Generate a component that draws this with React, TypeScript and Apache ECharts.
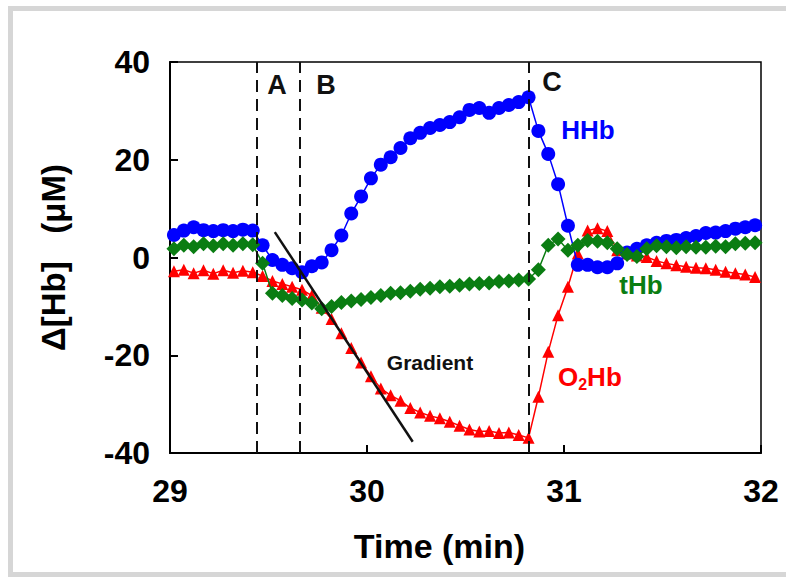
import React, { useEffect, useRef } from "react";
import * as echarts from "echarts";

// Time (min)
const times = [
  29.02, 29.07, 29.12, 29.17, 29.22, 29.27, 29.32, 29.37, 29.42, 29.47,
  29.52, 29.57, 29.62, 29.67, 29.72, 29.77, 29.82, 29.87, 29.92, 29.97,
  30.02, 30.07, 30.12, 30.17, 30.22, 30.27, 30.32, 30.37, 30.42, 30.47,
  30.52, 30.57, 30.62, 30.67, 30.72, 30.77, 30.82, 30.87, 30.92, 30.97,
  31.02, 31.07, 31.12, 31.17, 31.22, 31.27, 31.32, 31.37, 31.42, 31.47,
  31.52, 31.57, 31.62, 31.67, 31.72, 31.77, 31.82, 31.87, 31.92, 31.97,
];

const hhb = [
  4.6, 5.5, 6.2, 5.6, 5.4, 5.6, 5.4, 5.7, 5.5, 2.5,
  -0.5, -1.5, -2.2, -3.0, -1.8, -1.0, 1.5, 4.5, 9.0, 12.5,
  16.2, 19.0, 20.5, 22.4, 24.4, 25.5, 26.5, 27.1, 27.7, 28.7,
  30.2, 30.6, 29.6, 30.6, 31.2, 31.8, 32.8, 25.9, 21.2, 15.0,
  6.5, -1.5, -1.5, -2.0, -2.0, -1.2, 1.0, 1.8, 2.5, 3.0,
  3.4, 3.6, 4.0, 4.4, 5.0, 5.1, 5.4, 5.9, 6.2, 6.6,
];

const thb = [
  1.8, 2.5, 2.2, 2.8, 2.4, 2.8, 2.5, 2.8, 2.6, -1.2,
  -7.3, -7.8, -8.4, -8.7, -9.3, -10.5, -10.0, -9.2, -8.9, -8.6,
  -8.2, -7.8, -7.3, -7.2, -6.9, -6.5, -6.3, -6.0, -5.9, -5.7,
  -5.4, -5.3, -5.2, -4.9, -4.8, -4.6, -4.4, -2.5, 2.5, 3.8,
  1.5, 2.5, 3.5, 3.3, 3.0, 1.8, 0.6, 0.2, 1.8, 2.4,
  2.2, 2.0, 2.2, 2.1, 2.1, 2.3, 2.2, 2.8, 2.9, 3.0,
];

const o2hb = [
  -2.8, -2.5, -3.2, -2.6, -3.3, -2.6, -3.1, -2.7, -3.0, -3.8,
  -4.8, -5.4, -6.0, -6.6, -7.8, -10.3, -12.6, -15.5, -18.5, -21.5,
  -24.3, -26.8, -28.2, -29.3, -30.8, -31.7, -32.4, -32.9, -33.6, -34.4,
  -35.2, -35.6, -35.5, -35.9, -35.8, -36.3, -36.9, -28.5, -19.3, -11.8,
  -6.0, 0.8, 5.5, 6.0, 5.4, 1.5, 0.8, 0.4, 0.1, -0.7,
  -1.2, -1.6, -1.9, -2.1, -2.2, -2.5, -2.9, -3.2, -3.5, -4.0,
];

// Gradient line end points [time, value]
const gradientLine = [
  [29.532, 5.2],
  [30.232, -37.7],
];

// Phase boundaries (min)
const phaseTimes = [29.44, 29.662, 30.816];
const phaseNames = ["A", "B", "C"];

const xTicks = [29, 30, 31, 32];
const yTicks = [-40, -20, 0, 20, 40];

const FONT = "Liberation Sans, Arial, Helvetica, sans-serif";

export default function App() {
  const ref = useRef<HTMLDivElement>(null);

  useEffect(() => {
    if (!ref.current) return;
    const chart = echarts.init(ref.current, null, { renderer: "svg" });
    const zip = (vals: number[]) => times.map((t, i) => [t, vals[i]]);

    const option: any = {
      animation: false,
      backgroundColor: "#ffffff",
      grid: {
        left: 170,
        right: 25,
        top: 62,
        bottom: 124,
        show: true,
        borderColor: "#000",
        borderWidth: 1.5,
        backgroundColor: "transparent",
      },
      xAxis: {
        type: "value",
        min: xTicks[0],
        max: xTicks[xTicks.length - 1],
        interval: 1,
        axisLine: { show: true, onZero: false, lineStyle: { color: "#000", width: 2 } },
        axisTick: { show: true, inside: true, length: 8, lineStyle: { color: "#000", width: 2 } },
        axisLabel: {
          color: "#000",
          fontSize: 32,
          fontWeight: "bold",
          fontFamily: FONT,
          margin: 22,
        },
        splitLine: { show: false },
        name: "Time (min)",
        nameLocation: "middle",
        nameGap: 76,
        nameMoveOverlap: false,
        nameTextStyle: {
          color: "#000",
          fontSize: 34,
          fontWeight: "bold",
          fontFamily: FONT,
          padding: [0, 52, 0, 0],
        },
      },
      yAxis: {
        type: "value",
        min: yTicks[0],
        max: yTicks[yTicks.length - 1],
        interval: 20,
        axisLine: { show: true, onZero: false, lineStyle: { color: "#000", width: 2 } },
        axisTick: { show: true, inside: true, length: 8, lineStyle: { color: "#000", width: 2 } },
        axisLabel: {
          color: "#000",
          fontSize: 32,
          fontWeight: "bold",
          fontFamily: FONT,
          margin: 20,
        },
        splitLine: { show: false },
        name: "Δ[Hb]   (μM)",
        nameLocation: "middle",
        nameRotate: 90,
        nameGap: 100,
        nameMoveOverlap: false,
        nameTextStyle: { color: "#000", fontSize: 33, fontWeight: "bold", fontFamily: FONT },
      },
      series: [
        {
          name: "O2Hb",
          type: "line",
          data: zip(o2hb),
          symbol: "triangle",
          symbolSize: 12,
          itemStyle: { color: "#ff0000" },
          lineStyle: { color: "#ff0000", width: 1.5 },
          z: 2,
        },
        {
          name: "HHb",
          type: "line",
          data: zip(hhb),
          symbol: "circle",
          symbolSize: 14,
          itemStyle: { color: "#0000ff" },
          lineStyle: { color: "#0000ff", width: 1.5 },
          z: 3,
        },
        {
          name: "tHb",
          type: "line",
          data: zip(thb),
          symbol: "diamond",
          symbolSize: 15,
          itemStyle: { color: "#0a7d12" },
          lineStyle: { color: "#0a7d12", width: 1.5 },
          z: 4,
        },
        {
          name: "Gradient",
          type: "line",
          data: gradientLine,
          symbol: "none",
          lineStyle: { color: "#111", width: 2.5 },
          z: 5,
          markLine: {
            silent: true,
            symbol: "none",
            label: { show: false },
            lineStyle: { color: "#111", type: [12, 7], width: 2 },
            data: phaseTimes.map((t) => ({ xAxis: t })),
          },
        },
      ],
      graphic: [
        {
          type: "rect",
          shape: { x: 10.5, y: 8.5, width: 800, height: 566 },
          style: { fill: "none", stroke: "#d6d6d6", lineWidth: 5 },
          silent: true,
        },
        ...phaseNames.map((n, i) => ({
          type: "text",
          x: [277, 326, 552][i],
          y: [85, 85, 82][i],
          style: {
            text: n,
            fill: "#111",
            font: `bold 27px ${FONT}`,
            align: "center",
            verticalAlign: "middle",
          },
        })),
        {
          type: "text",
          x: 588,
          y: 130,
          style: { text: "HHb", fill: "#0000ff", font: `bold 26px ${FONT}`, align: "center", verticalAlign: "middle" },
        },
        {
          type: "text",
          x: 641,
          y: 285,
          style: { text: "tHb", fill: "#0a7d12", font: `bold 26px ${FONT}`, align: "center", verticalAlign: "middle" },
        },
        {
          type: "text",
          x: 558,
          y: 377,
          style: {
            text: "{m|O}{s|2}{m|Hb}",
            align: "left",
            verticalAlign: "middle",
            rich: {
              m: { fill: "#ff0000", font: `bold 26px ${FONT}` },
              s: { fill: "#ff0000", font: `bold 16px ${FONT}`, padding: [14, 0, 0, 0] },
            },
          },
        },
        {
          type: "text",
          x: 430,
          y: 362,
          style: { text: "Gradient", fill: "#111", font: `bold 21px ${FONT}`, align: "center", verticalAlign: "middle" },
        },
      ],
    };

    chart.setOption(option);
    return () => chart.dispose();
  }, []);

  return (
    <div
      ref={ref}
      style={{ position: "absolute", left: 0, top: 0, width: 786, height: 577, background: "#fff" }}
    />
  );
}
